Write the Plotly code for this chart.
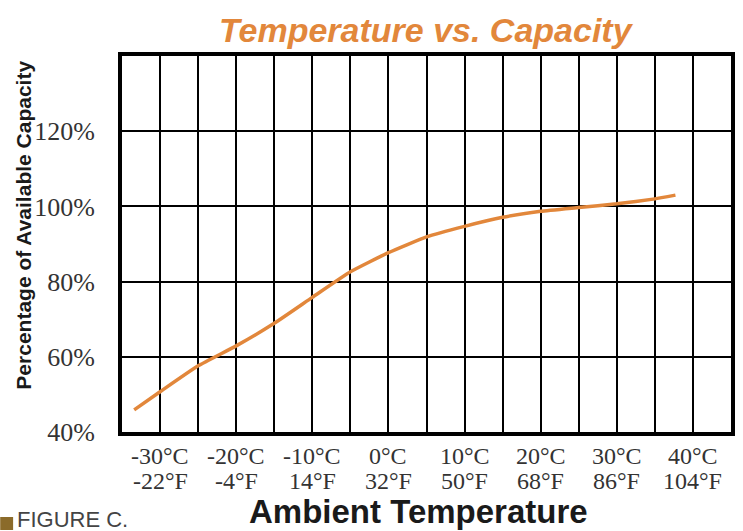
import plotly.graph_objects as go

# Data
temps_c = [-33.4, -30, -25, -20, -15, -10, -5, 0, 5, 10, 15, 20, 25, 30, 35, 37.7]
capacity = [45.9, 50.7, 57.6, 62.9, 68.9, 75.8, 82.6, 87.7, 91.9, 94.7, 97.1, 98.7, 99.7, 100.7, 102.0, 103.0]

label_c = [-30, -20, -10, 0, 10, 20, 30, 40]
label_c_text = ["-30°C", "-20°C", "-10°C", "0°C", "10°C", "20°C", "30°C", "40°C"]
label_f_text = ["-22°F", "-4°F", "14°F", "32°F", "50°F", "68°F", "86°F", "104°F"]
grid_x = [-30, -25, -20, -15, -10, -5, 0, 5, 10, 15, 20, 25, 30, 35, 40]
y_ticks = [40, 60, 80, 100, 120]
y_tick_text = ["40%", "60%", "80%", "100%", "120%"]

ORANGE = "#E2873B"
SANS = "Liberation Sans, Arial, sans-serif"
SERIF = "Liberation Serif, Times New Roman, serif"

fig = go.Figure()
fig.add_trace(go.Scatter(
    x=temps_c, y=capacity, mode="lines",
    line=dict(color=ORANGE, width=3.5, shape="spline", smoothing=0.4),
    hoverinfo="skip", showlegend=False,
))

fig.update_xaxes(
    range=[-35, 45], tickvals=grid_x, showticklabels=False,
    showgrid=True, gridcolor="black", gridwidth=2.2,
    showline=True, linecolor="black", linewidth=4, mirror=True,
    zeroline=False, ticks="",
)
fig.update_yaxes(
    range=[40, 140], tickvals=y_ticks, ticktext=y_tick_text,
    showgrid=True, gridcolor="black", gridwidth=2.2,
    showline=True, linecolor="black", linewidth=4, mirror=True,
    zeroline=False, ticks="", ticklabelstandoff=18,
    tickfont=dict(family=SERIF, size=26, color="#333333"),
)

ann = []
for xv, t1, t2 in zip(label_c, label_c_text, label_f_text):
    ann.append(dict(x=xv, y=-0.0638, xref="x", yref="paper", text=t1, showarrow=False,
                    xanchor="center", yanchor="middle",
                    font=dict(family=SERIF, size=24, color="#333333")))
    ann.append(dict(x=xv, y=-0.1303, xref="x", yref="paper", text=t2, showarrow=False,
                    xanchor="center", yanchor="middle",
                    font=dict(family=SERIF, size=24, color="#333333")))

ann.append(dict(x=0.5, y=1.069, xref="paper", yref="paper", text="<b><i>Temperature vs. Capacity</i></b>",
                showarrow=False, xanchor="center", yanchor="middle",
                font=dict(family=SANS, size=34, color=ORANGE)))
ann.append(dict(x=0.4873, y=-0.2114, xref="paper", yref="paper", text="<b>Ambient Temperature</b>",
                showarrow=False, xanchor="center", yanchor="middle",
                font=dict(family=SANS, size=33, color="#1a1a1a")))
ann.append(dict(x=-0.1608, y=0.549, xref="paper", yref="paper", text="<b>Percentage of Available Capacity</b>",
                showarrow=False, xanchor="center", yanchor="middle", textangle=-90,
                font=dict(family=SANS, size=21, color="#1a1a1a")))
ann.append(dict(x=-0.1755, y=-0.234, xref="paper", yref="paper", text="FIGURE C.",
                showarrow=False, xanchor="left", yanchor="middle",
                font=dict(family=SANS, size=22, color="#444444")))

fig.update_layout(
    width=743, height=531,
    margin=dict(l=122, r=8, t=56, b=99),
    paper_bgcolor="white", plot_bgcolor="white",
    annotations=ann,
    shapes=[dict(type="rect", xref="paper", yref="paper",
                 x0=-0.2, x1=-0.1788, y0=-0.2606, y1=-0.226,
                 fillcolor="#8B6B2A", line=dict(width=0))],
)

fig.write_html("out.html", config={"displayModeBar": False},
               post_script="document.body.style.margin='0';document.body.style.overflow='hidden';")
